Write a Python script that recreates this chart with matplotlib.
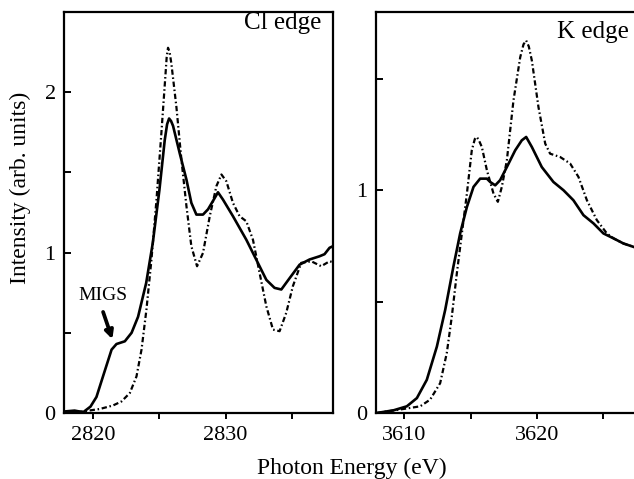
import numpy as np
import matplotlib
matplotlib.use("Agg")
import matplotlib.pyplot as plt

plt.rcParams['font.family'] = ['Liberation Serif', 'DejaVu Serif']

# Cl edge: solid line
cl_sol_x = [2817.9, 2818.6, 2819.25, 2819.8, 2820.25, 2820.75, 2821.39, 2821.76, 2822.39, 2822.9,
            2823.39, 2824.0, 2824.5, 2825.0, 2825.4, 2825.58, 2825.73, 2825.88, 2826.03, 2826.53,
            2827.04, 2827.41, 2827.79, 2828.29, 2828.67, 2829.17, 2829.42, 2829.8, 2830.55, 2831.56,
            2832.31, 2833.07, 2833.69, 2834.2, 2834.82, 2835.58, 2836.33, 2837.08, 2837.46, 2837.84,
            2838.1]
cl_sol_y = [0.01, 0.015, 0.005, 0.04, 0.10, 0.23, 0.395, 0.43, 0.447, 0.50,
            0.60, 0.81, 1.06, 1.39, 1.70, 1.80, 1.836, 1.82, 1.79, 1.62,
            1.455, 1.31, 1.237, 1.237, 1.27, 1.34, 1.376, 1.33, 1.227, 1.08,
            0.956, 0.83, 0.78, 0.77, 0.84, 0.925, 0.957, 0.977, 0.99, 1.03,
            1.04]

# Cl edge: dash-dot line
cl_dd_x = [2817.9, 2819.25, 2820.5, 2821.5, 2822.14, 2822.77, 2823.27, 2823.65, 2824.02, 2824.4,
           2824.78, 2825.15, 2825.45, 2825.55, 2825.65, 2825.77, 2825.9, 2826.28, 2826.66, 2827.04,
           2827.41, 2827.84, 2828.29, 2828.8, 2829.3, 2829.68, 2830.05, 2830.55, 2831.05, 2831.56,
           2832.06, 2832.56, 2833.07, 2833.57, 2834.07, 2834.57, 2835.07, 2835.7, 2836.46, 2837.21,
           2837.84, 2838.1]
cl_dd_y = [0.0, 0.01, 0.025, 0.047, 0.072, 0.125, 0.228, 0.395, 0.644, 0.957,
           1.33, 1.747, 2.10, 2.22, 2.277, 2.25, 2.18, 1.91, 1.58, 1.29,
           1.04, 0.915, 0.998, 1.227, 1.414, 1.487, 1.445, 1.31, 1.227, 1.195,
           1.08, 0.873, 0.665, 0.52, 0.51, 0.624, 0.79, 0.936, 0.946, 0.915,
           0.946, 0.94]

# K edge: solid line
k_sol_x = [3607.9, 3609.17, 3610.18, 3610.94, 3611.69, 3612.45, 3613.08, 3613.7, 3614.21, 3614.72,
           3615.22, 3615.72, 3616.23, 3616.48, 3616.86, 3617.23, 3617.74, 3618.37, 3618.87, 3619.2,
           3619.63, 3620.38, 3621.26, 3622.02, 3622.77, 3623.53, 3624.29, 3625.04, 3625.8, 3626.55,
           3627.35]
k_sol_y = [0.0, 0.012, 0.03, 0.067, 0.149, 0.298, 0.463, 0.657, 0.806, 0.925,
           1.015, 1.052, 1.052, 1.037, 1.022, 1.045, 1.104, 1.179, 1.224, 1.239,
           1.194, 1.104, 1.037, 1.0, 0.955, 0.888, 0.851, 0.806, 0.784, 0.761,
           0.745]

# K edge: dash-dot line
k_dd_x = [3607.9, 3609.92, 3611.19, 3611.94, 3612.7, 3613.2, 3613.58, 3613.96, 3614.34, 3614.72,
          3615.09, 3615.32, 3615.47, 3615.62, 3615.85, 3616.23, 3616.73, 3617.06, 3617.36, 3617.74,
          3618.24, 3618.75, 3619.0, 3619.2, 3619.4, 3619.63, 3620.13, 3620.64, 3621.01, 3621.77,
          3622.52, 3623.15, 3623.79, 3624.54, 3625.3, 3625.8, 3626.55, 3627.35]
k_dd_y = [0.0, 0.018, 0.03, 0.06, 0.134, 0.269, 0.433, 0.627, 0.806, 0.985,
          1.179, 1.23, 1.239, 1.225, 1.194, 1.09, 0.985, 0.948, 1.015, 1.134,
          1.403, 1.597, 1.655, 1.672, 1.645, 1.582, 1.373, 1.209, 1.164, 1.149,
          1.12, 1.06, 0.955, 0.866, 0.806, 0.784, 0.761, 0.745]

dashdot = (0, (2.4, 1.2, 0.7, 1.2))

fig = plt.figure(figsize=(6.34, 4.79), dpi=100)
ax1 = fig.add_axes([64/634, 1 - 413/479, 269/634, 401/479])
ax2 = fig.add_axes([376/634, 1 - 413/479, 258/634, 401/479])

ax1.plot(cl_sol_x, cl_sol_y, color='black', lw=1.9, linestyle='-')
ax1.plot(cl_dd_x, cl_dd_y, color='black', lw=1.6, linestyle=dashdot)
ax2.plot(k_sol_x, k_sol_y, color='black', lw=1.9, linestyle='-')
ax2.plot(k_dd_x, k_dd_y, color='black', lw=1.6, linestyle=dashdot)

ax1.set_xlim(2817.8, 2838.1)
ax1.set_ylim(0, 2.5)
ax2.set_xlim(3607.85, 3627.35)
ax2.set_ylim(0, 1.8)

ax1.set_xticks([2820, 2830])
ax1.set_xticks([2825, 2835], minor=True)
ax1.set_yticks([0, 1, 2])
ax1.set_yticks([0.5, 1.5], minor=True)
ax2.set_xticks([3610, 3620])
ax2.set_xticks([3615, 3625], minor=True)
ax2.set_yticks([0, 1])
ax2.set_yticks([0.5, 1.5], minor=True)

for ax in (ax1, ax2):
    for sp in ax.spines.values():
        sp.set_linewidth(1.6)
    ax.tick_params(axis='x', which='both', direction='out', length=4, width=1.4,
                   labelsize=16, pad=5)
    ax.tick_params(axis='y', which='both', direction='in', length=5, width=1.4,
                   labelsize=16, pad=6)
ax2.spines['right'].set_visible(False)

ax1.text(0.955, 0.957, 'Cl edge', transform=ax1.transAxes, ha='right', va='baseline', fontsize=18)
ax2.text(0.98, 0.935, 'K edge', transform=ax2.transAxes, ha='right', va='baseline', fontsize=18)

ax1.text(2820.73, 0.707, 'MIGS', ha='center', va='baseline', fontsize=14)
ax1.annotate('', xy=(2821.45, 0.46), xytext=(2820.75, 0.63),
             arrowprops=dict(arrowstyle='-|>', lw=2.7, color='black',
                             mutation_scale=12, shrinkA=0, shrinkB=0))

fig.text(20/634, 1 - 188/479, 'Intensity (arb. units)', rotation=90,
         ha='center', va='center', fontsize=17)
fig.text(352/634, 1 - 468/479, 'Photon Energy (eV)', ha='center', va='center', fontsize=17)

fig.savefig('out.png', dpi=100)
